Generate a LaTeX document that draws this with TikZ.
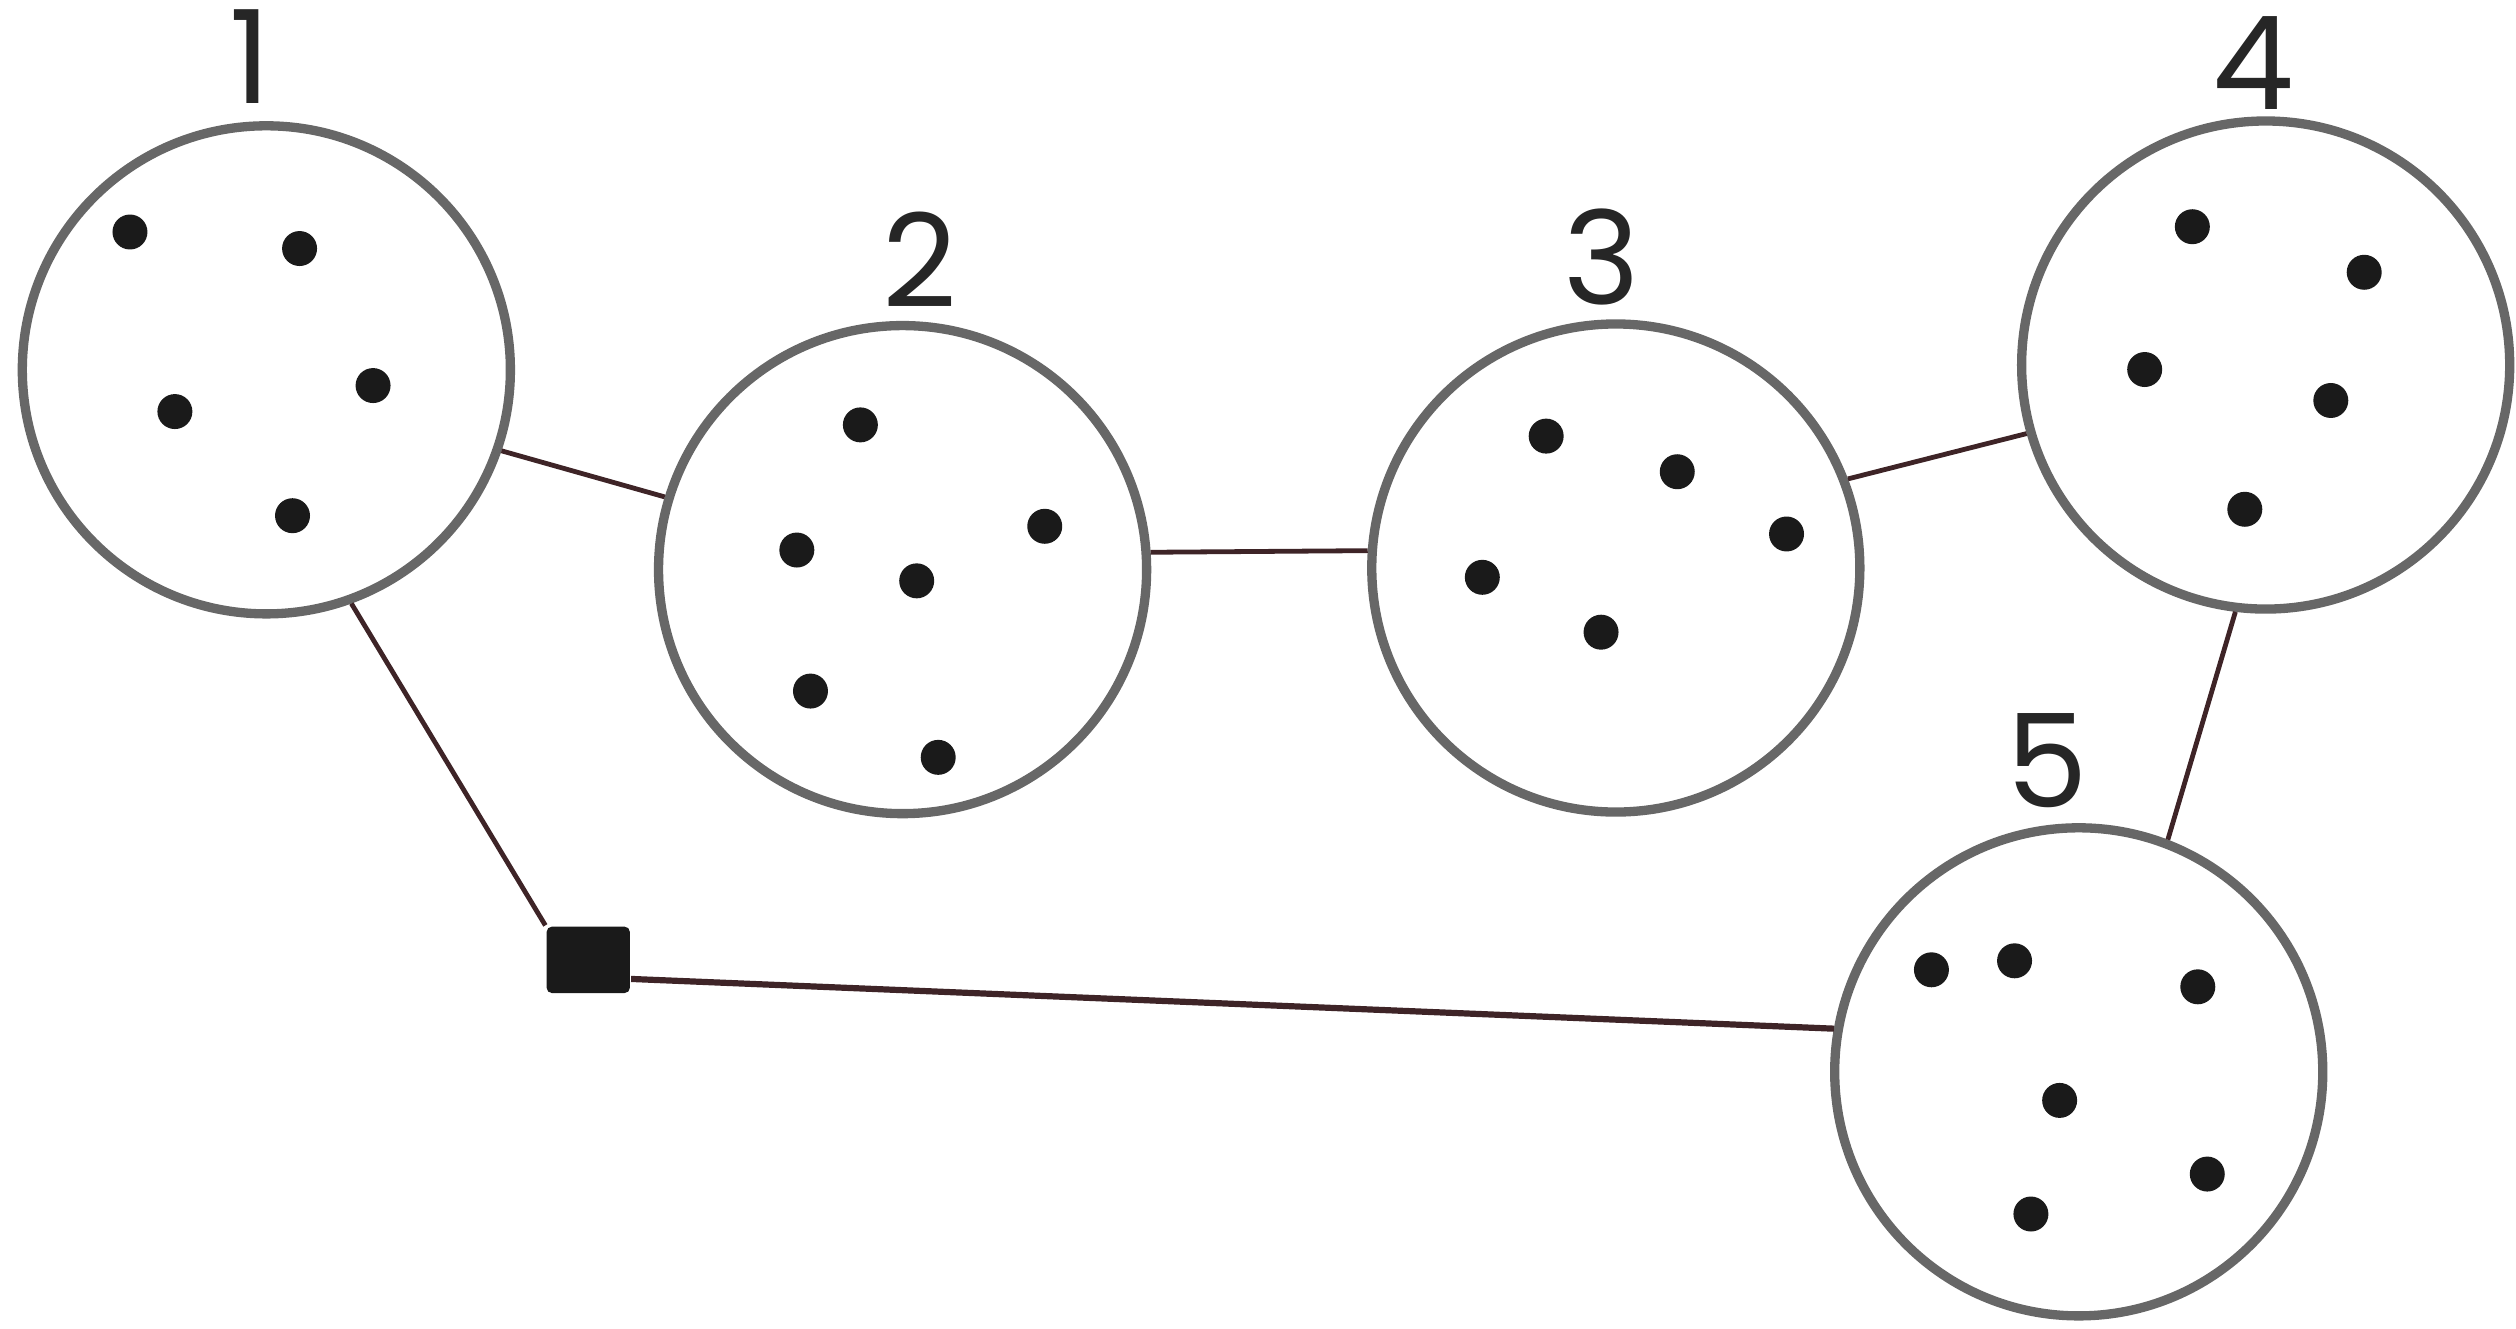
\documentclass[tikz,border=0pt]{standalone}
\usepackage{fontspec}
\newfontfamily\numfont{Poppins}
\usepackage{tikz}
\usetikzlibrary{calc}

\definecolor{ringgray}{HTML}{676767}
\definecolor{wirebrown}{HTML}{3E2427}
\definecolor{dotblack}{HTML}{1A1A1A}

\begin{document}
\begin{tikzpicture}[x=0.01cm,y=-0.01cm,
  ring/.style={circle,draw=ringgray,line width=1.65pt,minimum size=3.04cm,inner sep=0pt},
  wire/.style={draw=wirebrown,line width=0.85pt},
  num/.style={anchor=base,text=black!85,inner sep=0pt,font=\numfont\fontsize{23}{23}\selectfont}]
\useasboundingbox (0,0) rectangle (1568,828);

% the five groups
\node[ring] (c1) at (166,230.5) {};
\node[ring] (c2) at (562.5,355) {};
\node[ring] (c3) at (1007,354) {};
\node[ring] (c4) at (1412,227.5) {};
\node[ring] (c5) at (1295.5,668) {};
\node[fill=dotblack,rounded corners=1pt,minimum width=0.52cm,minimum height=0.415cm,inner sep=0pt] (sq) at (366.6,598.2) {};

\node[num] (n1) at (156,64.5) {1};
\node[num] (n2) at (573.5,191.4) {2};
\node[num] (n3) at (998.4,190) {3};
\node[num] (n4) at (1404,68) {4};
\node[num] (n5) at (1276,503) {5};

% links
\draw[wire] (c1.341) -- (c2.163);
\draw[wire] (c2.4) -- (c3.176);
\draw[wire] (c3.21) -- (c4.196);
\draw[wire] (c4.263) -- (c5.69);
\draw[wire] (c1.290) -- (sq.north west);
\draw[wire,line width=1.1pt] (sq.-24) -- (c5.170);

% members
\fill[dotblack] (81,144.6) circle (10.9);
\fill[dotblack] (186.7,154.9) circle (10.9);
\fill[dotblack] (109,256.5) circle (10.9);
\fill[dotblack] (232.5,240.3) circle (10.9);
\fill[dotblack] (182.3,321.4) circle (10.9);

\fill[dotblack] (536.2,264.8) circle (10.9);
\fill[dotblack] (496.6,342.8) circle (10.9);
\fill[dotblack] (651.1,328) circle (10.9);
\fill[dotblack] (571.3,362) circle (10.9);
\fill[dotblack] (505.1,430.7) circle (10.9);
\fill[dotblack] (584.7,472) circle (10.9);

\fill[dotblack] (963.6,271.8) circle (10.9);
\fill[dotblack] (1045.3,294) circle (10.9);
\fill[dotblack] (1113.4,332.8) circle (10.9);
\fill[dotblack] (923.8,359.8) circle (10.9);
\fill[dotblack] (997.8,394) circle (10.9);

\fill[dotblack] (1366.3,141.3) circle (10.9);
\fill[dotblack] (1473.4,169.7) circle (10.9);
\fill[dotblack] (1336.6,230.3) circle (10.9);
\fill[dotblack] (1452.6,249.6) circle (10.9);
\fill[dotblack] (1399,317.4) circle (10.9);

\fill[dotblack] (1203.7,604.4) circle (10.9);
\fill[dotblack] (1255.5,598.8) circle (10.9);
\fill[dotblack] (1369.7,615) circle (10.9);
\fill[dotblack] (1283.6,685.8) circle (10.9);
\fill[dotblack] (1375.6,731.7) circle (10.9);
\fill[dotblack] (1265.7,756.6) circle (10.9);

\end{tikzpicture}
\end{document}
